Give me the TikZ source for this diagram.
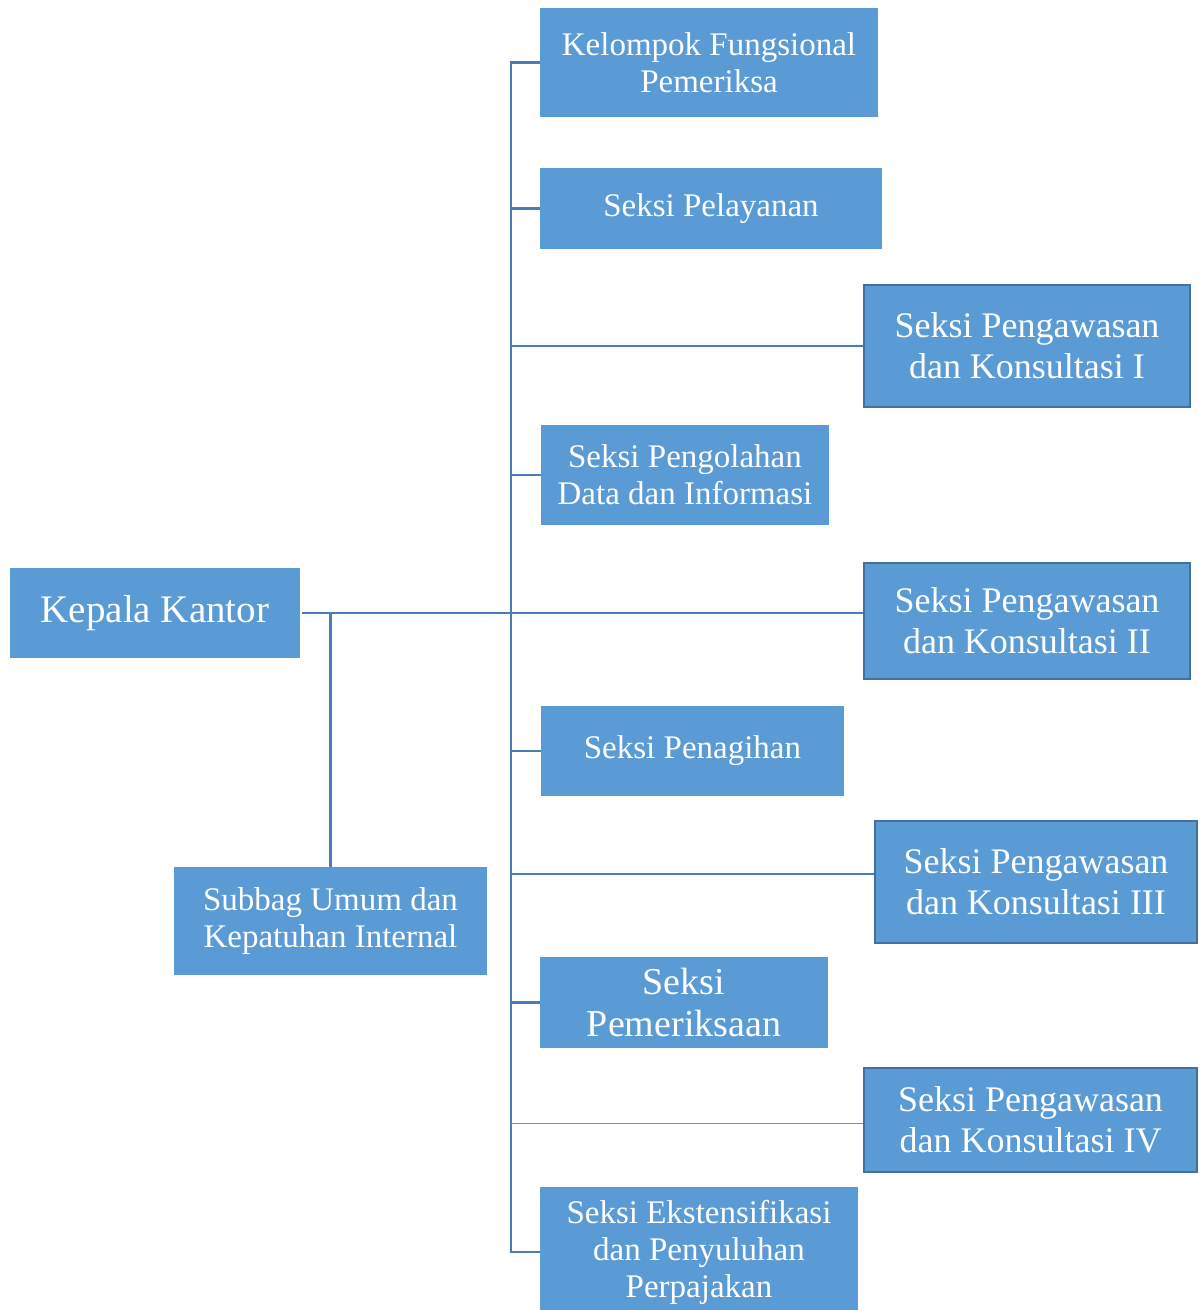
\documentclass[tikz,border=0pt]{standalone}
\usepackage{fontspec}
\setmainfont{Liberation Serif}
\usetikzlibrary{positioning}
\definecolor{boxblue}{HTML}{5B9BD5}
\definecolor{edgeblue}{HTML}{41719C}
\definecolor{linkblue}{HTML}{4A7DB5}

\begin{document}
\begin{tikzpicture}[
  x=0.5pt,y=-0.5pt,
  box/.style={fill=boxblue,text=white,align=center,inner sep=0pt,
              font=\fontsize{16.5}{18.5}\selectfont},
  spk/.style={box,draw=edgeblue,line width=1.2pt,
              font=\fontsize{18}{20.5}\selectfont},
  link/.style={draw=linkblue,line width=1.1pt},
  thinlink/.style={draw=linkblue!85,line width=0.5pt}
]
\useasboundingbox (0,0) rectangle (1202,1310);

% head and sub-division on the left
\node[box,minimum width=145pt,minimum height=45pt,
      font=\fontsize{19.5}{22}\selectfont] (kepala) at (155,613) {Kepala Kantor};
\node[box,minimum width=156.5pt,minimum height=54pt] (subbag) at (330.5,921)
 {Subbag Umum dan\\Kepatuhan Internal};

% sections along the trunk
\node[box,minimum width=169pt,minimum height=54.5pt] (kelompok) at (709,62.5)
 {Kelompok Fungsional\\Pemeriksa};
\node[box,minimum width=171pt,minimum height=40.5pt] (pelayanan) at (711,208.5)
 {Seksi Pelayanan};
\node[box,minimum width=144pt,minimum height=50pt] (pengolahan) at (685,475)
 {Seksi Pengolahan\\Data dan Informasi};
\node[box,minimum width=151.5pt,minimum height=45pt] (penagihan) at (692.5,751)
 {Seksi Penagihan};
\node[box,minimum width=144pt,minimum height=45.5pt,
      font=\fontsize{19}{21}\selectfont] (pemeriksaan) at (684,1002.5)
 {Seksi\\Pemeriksaan};
\node[box,minimum width=159pt,minimum height=65pt] (ekst) at (699,1252)
 {Seksi Ekstensifikasi\\dan Penyuluhan\\Perpajakan};

% supervision sections on the right
\node[spk,minimum width=163pt,minimum height=61pt] (spk1) at (1027,346)
 {Seksi Pengawasan\\dan Konsultasi I};
\node[spk,minimum width=163pt,minimum height=58pt] (spk2) at (1027,621)
 {Seksi Pengawasan\\dan Konsultasi II};
\node[spk,minimum width=161pt,minimum height=61pt] (spk3) at (1036,882)
 {Seksi Pengawasan\\dan Konsultasi III};
\node[spk,minimum width=166.5pt,minimum height=52pt] (spk4) at (1030.5,1120)
 {Seksi Pengawasan\\dan Konsultasi IV};

% connectors
\coordinate (trunk) at (511,0);
\coordinate (k3) at ([yshift=4pt]spk3.west);
\coordinate (k4) at ([yshift=-1.5pt]spk4.west);
\draw[link] (kelompok.west) -- (kelompok.west -| trunk)
  -- (ekst.west -| trunk) -- (ekst.west);
\foreach \n in {pelayanan,pengolahan,penagihan,pemeriksaan,spk1}
  \draw[link] (\n.west -| trunk) -- (\n.west);
\draw[link] ([xshift=1pt]kepala.east) -- (kepala.east -| spk2.west);
\draw[link] (subbag.north) -- (subbag.north |- kepala.east);
\draw[link] (k3 -| trunk) -- (k3);
\draw[thinlink] (k4 -| trunk) -- (k4);
\end{tikzpicture}
\end{document}
